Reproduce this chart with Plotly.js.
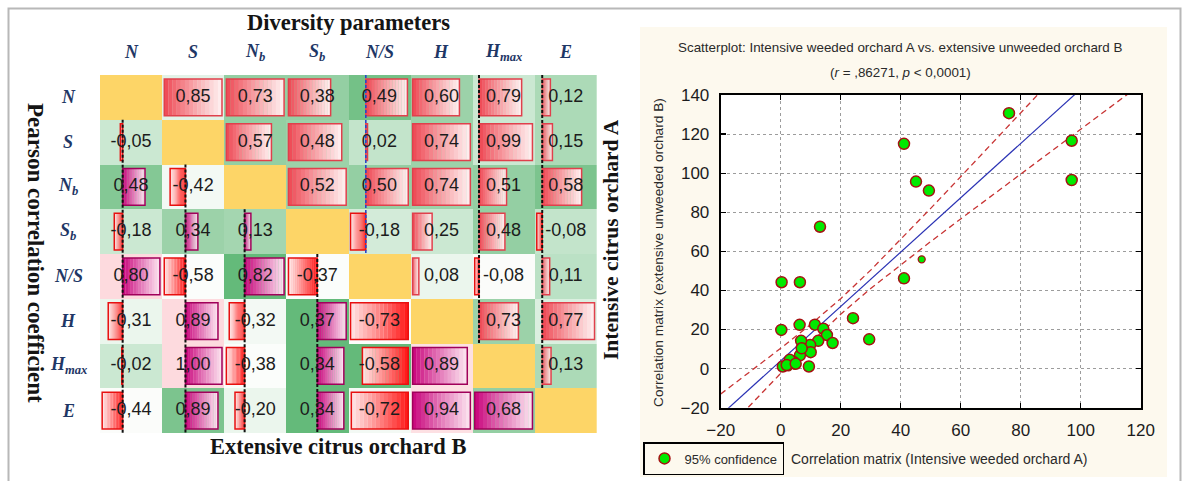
<!DOCTYPE html>
<html>
<head>
<meta charset="utf-8">
<script src="https://cdn.plot.ly/plotly-3.0.1.min.js"></script>
<style>
  html, body { margin: 0; padding: 0; background: #ffffff; }
  #chart { width: 1185px; height: 481px; }
</style>
</head>
<body>
<div id="chart"></div>
<script>
// Diversity parameters (row/column labels of the correlation matrix)
const PARAMS = ['N', 'S', 'N<sub>b</sub>', 'S<sub>b</sub>', 'N/S', 'H', 'H<sub>max</sub>', 'E'];

// Pearson r: upper triangle = intensive orchard A, lower triangle = extensive orchard B
const R = [
  [null,  0.85,  0.73,  0.38,  0.49,  0.60,  0.79,  0.12],
  [-0.05, null,  0.57,  0.48,  0.02,  0.74,  0.99,  0.15],
  [0.48, -0.42,  null,  0.52,  0.50,  0.74,  0.51,  0.58],
  [-0.18, 0.34,  0.13,  null, -0.18,  0.25,  0.48, -0.08],
  [0.80, -0.58,  0.82, -0.37,  null,  0.08, -0.08,  0.11],
  [-0.31, 0.89, -0.32,  0.37, -0.73,  null,  0.73,  0.77],
  [-0.02, 1.00, -0.38,  0.34, -0.58,  0.89,  null,  0.13],
  [-0.44, 0.89, -0.20,  0.34, -0.72,  0.94,  0.68,  null]
];

// Background shading of each cell (-1 pink ... 0 white ... 1 green)
const SHADE = [
  [null, 0.15, 0.65, 0.65, 0.85, 0.60, 0.30, 0.50],
  [0.30, null, 0.65, 0.60, 0.35, 0.60, 0.30, 0.50],
  [0.75, 0.05, null, 0.60, 0.65, 0.60, 0.65, 0.80],
  [0.30, 0.60, 0.55, null, 0.25, 0.30, 0.65, 0.35],
  [-0.60, 0.00, 0.95, 0.00, null, 0.10, -0.02, 0.40],
  [0.10, -0.60, 0.05, 0.95, 0.00, null, 0.60, 0.20],
  [0.30, -0.60, 0.00, 0.95, 0.95, -0.50, null, 0.50],
  [-0.02, 0.80, 0.10, 0.95, 0.05, -0.50, 0.65, null]
];

// Scatterplot: correlation matrix A (x) against correlation matrix B (y)
const POINTS_X = [13.1, 41.1, 45.1, 49.4, 76.1, 97.0, 97.0, 0.3, 6.4, 0.2, 6.3, 11.4, 24.1, 29.5, 41.1,
                  14.2, 15.4, 17.3, 12.5, 9.8, 10.0, 6.8, 6.4, 9.4, 0.7, 4.2, 3.0, 2.0, 5.0, 7.0];
const POINTS_Y = [72.6, 115.0, 95.7, 91.1, 130.7, 116.6, 96.5, 44.2, 44.2, 19.8, 22.4, 22.5, 25.8, 15.0, 46.2,
                  20.4, 17.2, 13.1, 14.2, 12.1, 8.4, 14.2, 6.8, 1.1, 1.1, 3.5, 4.5, 1.8, 2.5, 10.4];
const SMALL_X = [47.0, 3.5, 4.6, 2.6];
const SMALL_Y = [55.9, 3.0, 1.6, 0.6];

// Fitted regression line and its 95% confidence limits
const FIT_INTERCEPT = 4.0;
const FIT_SLOPE = 1.39;
const BAND_X  = [-20, -10, 0, 10, 20, 30, 40, 50, 60, 70, 80, 90, 100, 110, 120];
const BAND_UP = [-13.0, -1.4, 10.4, 22.6, 35.8, 50.4, 66.0, 82.0, 98.2, 114.5, 130.8, 147.1, 163.5, 179.8, 196.2];
const BAND_LO = [-34.6, -18.4, -2.4, 13.2, 27.8, 41.0, 53.2, 65.0, 76.6, 88.1, 99.6, 111.1, 122.5, 134.0, 145.4];

const X_TICKS = [-20, 0, 20, 40, 60, 80, 100, 120];
const Y_TICKS = [-20, 0, 20, 40, 60, 80, 100, 120, 140];

// ---------------------------------------------------------------
const W = 1185, H = 481;
const px = v => v / W;            // horizontal pixel -> paper
const py = v => 1 - v / H;        // vertical pixel -> paper

const n = PARAMS.length;

function hexToRgb(h) {
  const v = parseInt(h.slice(1), 16);
  return [(v >> 16) & 255, (v >> 8) & 255, v & 255];
}
function mix(a, b, t) {
  const A = hexToRgb(a), B = hexToRgb(b);
  const c = A.map((x, k) => Math.round(x + (B[k] - x) * t));
  return `rgb(${c[0]},${c[1]},${c[2]})`;
}

// data bars inside the cells (gradient built from thin slices)
const BAR_STYLE = {
  upper: { pos: ['#ee4450', '#fff2f2', '#e0404c'], neg: ['#ff1010', '#ffe6e6', '#e81010'] },
  lower: { pos: ['#c8007a', '#fce6f1', '#a0005a'], neg: ['#ff1010', '#ffe6e6', '#e81010'] }
};
const PAD = 0.035, INNER = 1 - 2 * PAD, STEPS = 14;
const seg = { y: [], base: [], x: [], color: [] };
const frame = { y: [], base: [], x: [], color: [] };
const zeroBlack = { x: [], y: [] };
const zeroBlue = { x: [], y: [] };

for (let j = 0; j < n; j++) {
  for (const part of ['upper', 'lower']) {
    const rows = [];
    for (let i = 0; i < n; i++) if (part === 'upper' ? i < j : i > j) rows.push(i);
    if (!rows.length) continue;
    const vals = rows.map(i => R[i][j]);
    const lo = Math.min(0, ...vals), hi = Math.max(0, ...vals);
    const left = j - 0.5 + PAD;
    const pos = v => left + INNER * (v - lo) / (hi - lo);
    const z0 = pos(0);
    rows.forEach(i => {
      const v = R[i][j];
      const end = pos(v);
      const st = BAR_STYLE[part][v >= 0 ? 'pos' : 'neg'];
      const len = end - z0;
      for (let k = 0; k < STEPS; k++) {
        const a = z0 + len * k / STEPS, b = z0 + len * (k + 1) / STEPS;
        seg.y.push(i);
        seg.base.push(Math.min(a, b));
        seg.x.push(Math.abs(b - a) + 0.003);
        seg.color.push(mix(st[0], st[1], Math.pow((k + 0.5) / STEPS, 0.9)));
      }
      frame.y.push(i);
      frame.base.push(Math.min(z0, end));
      frame.x.push(Math.abs(len));
      frame.color.push(st[2]);
    });
    if (lo < 0 && hi > 0) {
      const tgt = (part === 'upper' && j === 4) ? zeroBlue : zeroBlack;
      tgt.x.push(z0, z0, null);
      tgt.y.push(rows[0] - 0.5, rows[rows.length - 1] + 0.5, null);
    }
  }
}

const idx = [...Array(n).keys()];
const diag = idx.map(i => idx.map(j => (i === j ? 1 : null)));

const txt = { x: [], y: [], t: [] };
for (let i = 0; i < n; i++) for (let j = 0; j < n; j++) {
  if (R[i][j] === null) continue;
  txt.x.push(j); txt.y.push(i);
  txt.t.push(R[i][j].toFixed(2).replace('.', ','));
}

const traces = [
  {
    type: 'heatmap', x: idx, y: idx, z: SHADE, zmin: -1, zmax: 1,
    colorscale: [[0, '#ffc2cb'], [0.5, '#fbfdfb'], [1, '#5cb673']],
    showscale: false, hoverinfo: 'skip', xaxis: 'x', yaxis: 'y'
  },
  {
    type: 'heatmap', x: idx, y: idx, z: diag, zmin: 0, zmax: 1,
    colorscale: [[0, '#fdd567'], [1, '#fdd567']],
    showscale: false, hoverinfo: 'skip', xaxis: 'x', yaxis: 'y'
  },
  {
    type: 'bar', orientation: 'h', y: seg.y, base: seg.base, x: seg.x, width: 0.82,
    marker: { color: seg.color, line: { width: 0 } },
    showlegend: false, hoverinfo: 'skip', xaxis: 'x', yaxis: 'y'
  },
  {
    type: 'bar', orientation: 'h', y: frame.y, base: frame.base, x: frame.x, width: 0.82,
    marker: { color: 'rgba(0,0,0,0)', line: { color: frame.color, width: 1.5 } },
    showlegend: false, hoverinfo: 'skip', xaxis: 'x', yaxis: 'y'
  },
  {
    type: 'scatter', mode: 'lines', x: zeroBlack.x, y: zeroBlack.y,
    line: { color: '#111111', width: 2, dash: '3px,2px' },
    showlegend: false, hoverinfo: 'skip', xaxis: 'x', yaxis: 'y'
  },
  {
    type: 'scatter', mode: 'lines', x: zeroBlue.x, y: zeroBlue.y,
    line: { color: '#2a46c8', width: 1.6, dash: '3px,2px' },
    showlegend: false, hoverinfo: 'skip', xaxis: 'x', yaxis: 'y'
  },
  {
    type: 'scatter', mode: 'text', x: txt.x, y: txt.y, text: txt.t,
    textposition: 'middle center',
    textfont: { family: 'Liberation Sans, Arial, sans-serif', size: 18, color: '#1c1c1c' },
    showlegend: false, hoverinfo: 'skip', xaxis: 'x', yaxis: 'y'
  },
  // scatterplot panel
  {
    type: 'scatter', mode: 'lines', x: BAND_X, y: BAND_UP,
    line: { color: '#c83434', width: 1.3, dash: '6px,4px' },
    showlegend: false, hoverinfo: 'skip', xaxis: 'x2', yaxis: 'y2'
  },
  {
    type: 'scatter', mode: 'lines', x: BAND_X, y: BAND_LO,
    line: { color: '#c83434', width: 1.3, dash: '6px,4px' },
    showlegend: false, hoverinfo: 'skip', xaxis: 'x2', yaxis: 'y2'
  },
  {
    type: 'scatter', mode: 'lines',
    x: [X_TICKS[0], X_TICKS[X_TICKS.length - 1]],
    y: [FIT_INTERCEPT + FIT_SLOPE * X_TICKS[0], FIT_INTERCEPT + FIT_SLOPE * X_TICKS[X_TICKS.length - 1]],
    line: { color: '#2a32b4', width: 1.2 },
    showlegend: false, hoverinfo: 'skip', xaxis: 'x2', yaxis: 'y2'
  },
  {
    type: 'scatter', mode: 'markers', x: SMALL_X, y: SMALL_Y,
    marker: { size: 7, color: '#00ea00', line: { color: '#a51212', width: 1.3 } },
    showlegend: false, hoverinfo: 'skip', xaxis: 'x2', yaxis: 'y2'
  },
  {
    type: 'scatter', mode: 'markers', x: POINTS_X, y: POINTS_Y, name: '95% confidence',
    marker: { size: 11, color: '#00ea00', line: { color: '#a51212', width: 1.5 } },
    showlegend: true, hoverinfo: 'skip', xaxis: 'x2', yaxis: 'y2'
  }
];

const serif = 'Liberation Serif, Times New Roman, serif';
const sans = 'Liberation Sans, Arial, sans-serif';
const annotations = [];

function note(o) {
  return Object.assign({ showarrow: false, xanchor: 'center', yanchor: 'middle' }, o);
}

// column and row labels
PARAMS.forEach((p, k) => {
  annotations.push(note({
    xref: 'x', yref: 'paper', x: k, y: py(52), text: '<b><i>' + p + '</i></b>',
    font: { family: serif, size: 18, color: '#1f3766' }
  }));
  annotations.push(note({
    xref: 'paper', yref: 'y', x: px(68), y: k, text: '<b><i>' + p + '</i></b>',
    font: { family: serif, size: 18, color: '#1f3766' }
  }));
});

annotations.push(
  note({ xref: 'paper', yref: 'paper', x: px(348), y: py(22), text: '<b>Diversity parameters</b>',
    font: { family: serif, size: 22.5, color: '#141414' } }),
  note({ xref: 'paper', yref: 'paper', x: px(338), y: py(446), text: '<b>Extensive citrus orchard B</b>',
    font: { family: serif, size: 22.5, color: '#141414' } }),
  note({ xref: 'paper', yref: 'paper', x: px(36), y: py(253), text: '<b>Pearson correlation coefficient</b>',
    textangle: 90, font: { family: serif, size: 23, color: '#141414' } }),
  note({ xref: 'paper', yref: 'paper', x: px(611), y: py(240), text: '<b>Intensive citrus orchard A</b>',
    textangle: -90, font: { family: serif, size: 21.5, color: '#141414' } }),
  note({ xref: 'paper', yref: 'paper', x: px(900), y: py(47),
    text: 'Scatterplot: Intensive weeded orchard A vs. extensive unweeded orchard B',
    font: { family: sans, size: 13.4, color: '#2a2a2a' } }),
  note({ xref: 'paper', yref: 'paper', x: px(900), y: py(72),
    text: '(<i>r</i> = ,86271, <i>p</i> &lt; 0,0001)',
    font: { family: sans, size: 13.4, color: '#2a2a2a' } }),
  note({ xref: 'paper', yref: 'paper', x: px(658), y: py(253),
    text: 'Correlation matrix (extensive unweeded orchard B)', textangle: -90,
    font: { family: sans, size: 13.7, color: '#2a2a2a' } }),
  note({ xref: 'paper', yref: 'paper', x: px(789), y: py(459), xanchor: 'left',
    text: 'Correlation matrix (Intensive weeded orchard A)',
    font: { family: sans, size: 14, color: '#2a2a2a' } })
);

const shapes = [
  // outer frame
  { type: 'rect', xref: 'paper', yref: 'paper', x0: px(8.5), x1: px(1180.5), y0: py(500), y1: py(8.5),
    line: { color: '#b8b8b8', width: 2 }, fillcolor: 'rgba(0,0,0,0)', layer: 'below' },
  // cream panel behind the scatterplot
  { type: 'rect', xref: 'paper', yref: 'paper', x0: px(640), x1: px(1167), y0: py(477), y1: py(27),
    line: { width: 0 }, fillcolor: '#fdf9ee', layer: 'below' },
  { type: 'rect', xref: 'x2 domain', yref: 'y2 domain', x0: 0, x1: 1, y0: 0, y1: 1,
    line: { width: 0 }, fillcolor: '#ffffff', layer: 'below' }
];

const axisCommon = {
  range: [X_TICKS[0], X_TICKS[X_TICKS.length - 1]],
  tickvals: X_TICKS, showgrid: true, gridcolor: '#9c9c9c', griddash: 'dot', gridwidth: 1,
  zeroline: false, showline: true, linecolor: '#000000', linewidth: 2, mirror: 'ticks',
  ticks: 'inside', ticklen: 5, tickcolor: '#000000', tickwidth: 1.2,
  tickfont: { family: sans, size: 17, color: '#1c1c1c' }
};

const layout = {
  width: W, height: H, autosize: false,
  margin: { l: 0, r: 0, t: 0, b: 0, pad: 0 },
  paper_bgcolor: '#ffffff', plot_bgcolor: 'rgba(0,0,0,0)',
  barmode: 'overlay', showlegend: true,
  xaxis: { domain: [px(100), px(596.7)], range: [-0.5, n - 0.5], anchor: 'y',
           visible: false, showgrid: false, zeroline: false, fixedrange: true },
  yaxis: { domain: [py(433), py(75)], range: [n - 0.5, -0.5], anchor: 'x',
           visible: false, showgrid: false, zeroline: false, fixedrange: true },
  xaxis2: Object.assign({}, axisCommon, {
    domain: [px(720.7), px(1140.7)], anchor: 'y2', ticklabelstandoff: 6
  }),
  yaxis2: Object.assign({}, axisCommon, {
    domain: [py(407.7), py(95)], anchor: 'x2',
    range: [Y_TICKS[0], Y_TICKS[Y_TICKS.length - 1]], tickvals: Y_TICKS, ticklabelstandoff: 6
  }),
  legend: {
    x: px(643), y: py(458.5), xanchor: 'left', yanchor: 'middle',
    bgcolor: 'rgba(0,0,0,0)', bordercolor: '#000000', borderwidth: 1.5,
    font: { family: sans, size: 13, color: '#2a2a2a' }
  },
  annotations: annotations,
  shapes: shapes
};

Plotly.newPlot('chart', traces, layout, { staticPlot: true, displayModeBar: false });
</script>
</body>
</html>
